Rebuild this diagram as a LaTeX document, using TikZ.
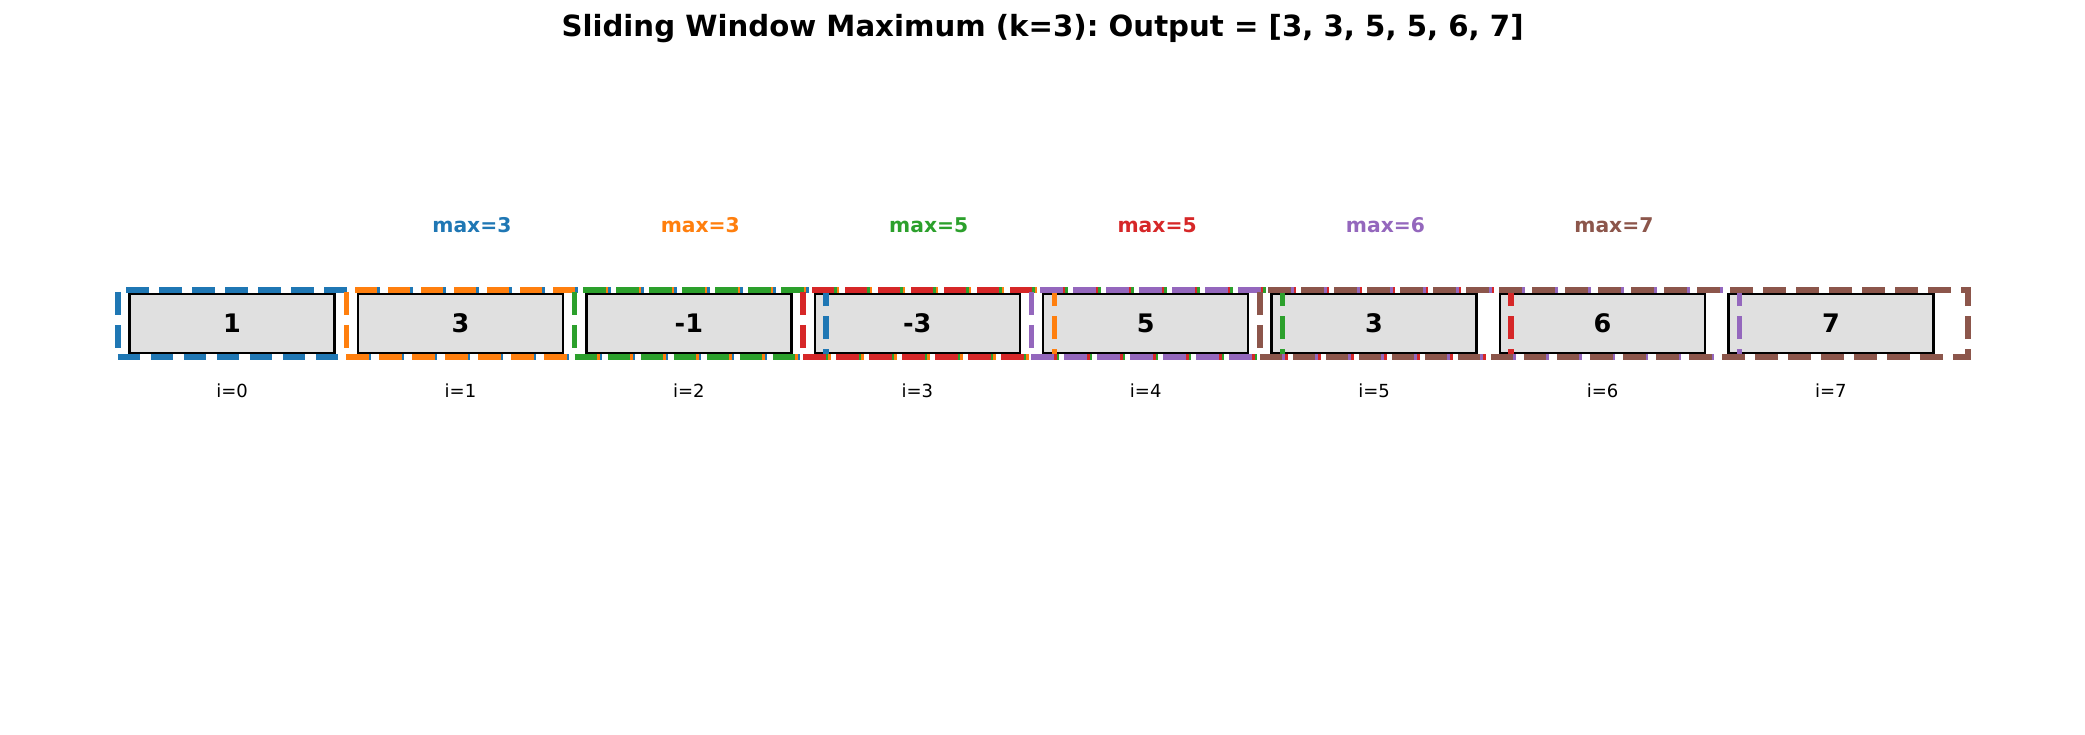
\documentclass[tikz,border=0pt]{standalone}
\usepackage{fontspec}
\setmainfont{DejaVu Sans}
\definecolor{w0}{HTML}{1F77B4}
\definecolor{w1}{HTML}{FF7F0E}
\definecolor{w2}{HTML}{2CA02C}
\definecolor{w3}{HTML}{D62728}
\definecolor{w4}{HTML}{9467BD}
\definecolor{w5}{HTML}{8C564B}
\definecolor{cellgray}{HTML}{E0E0E0}
\frenchspacing
\begin{document}
\begin{tikzpicture}[x=1pt,y=-1pt,
  cellbox/.style={draw=black, line width=2.5pt, fill=cellgray, minimum width=205pt, minimum height=59pt, inner sep=0pt, font=\bfseries\fontsize{25.5}{25.5}\selectfont},
  idxlabel/.style={anchor=base, inner sep=0pt, font=\fontsize{18}{18}\selectfont},
  maxlabel/.style={anchor=base, inner sep=0pt, font=\bfseries\fontsize{20.3}{20.3}\selectfont},
  winbox/.style={line width=5.5pt, dash pattern=on 22.6pt off 10.4pt, line join=miter}]
\useasboundingbox (0,0) rectangle (2085,734);
\node[anchor=base, inner sep=0pt, font=\bfseries\fontsize{29.2}{29.2}\selectfont] (title) at (1042.5,36.5) {Sliding Window Maximum (k=3): Output = [3, 3, 5, 5, 6, 7]};
\foreach \v [count=\i from 0] in {1,3,-1,-3,5,3,6,7} {
  \node[cellbox] (c\i) at ({129.3+102.8+228.4*\i},323.3) {\v};
  \node[idxlabel] (l\i) at ({129.3+102.8+228.4*\i},397) {i=\i};
}
\foreach \m [count=\j from 0] in {3,3,5,5,6,7} {
  \pgfmathsetmacro{\xl}{129.3+(\j-0.05)*228.4}
  \pgfmathsetmacro{\xr}{129.3+(\j+3.05)*228.4}
  \draw[winbox, draw=w\j] (\xl,357) -- (\xr,357) -- (\xr,290) -- (\xl,290) -- cycle;
  \node[maxlabel, text=w\j] (m\j) at ({471.9+228.4*\j},232.5) {max=\m};
}
\end{tikzpicture}
\end{document}
